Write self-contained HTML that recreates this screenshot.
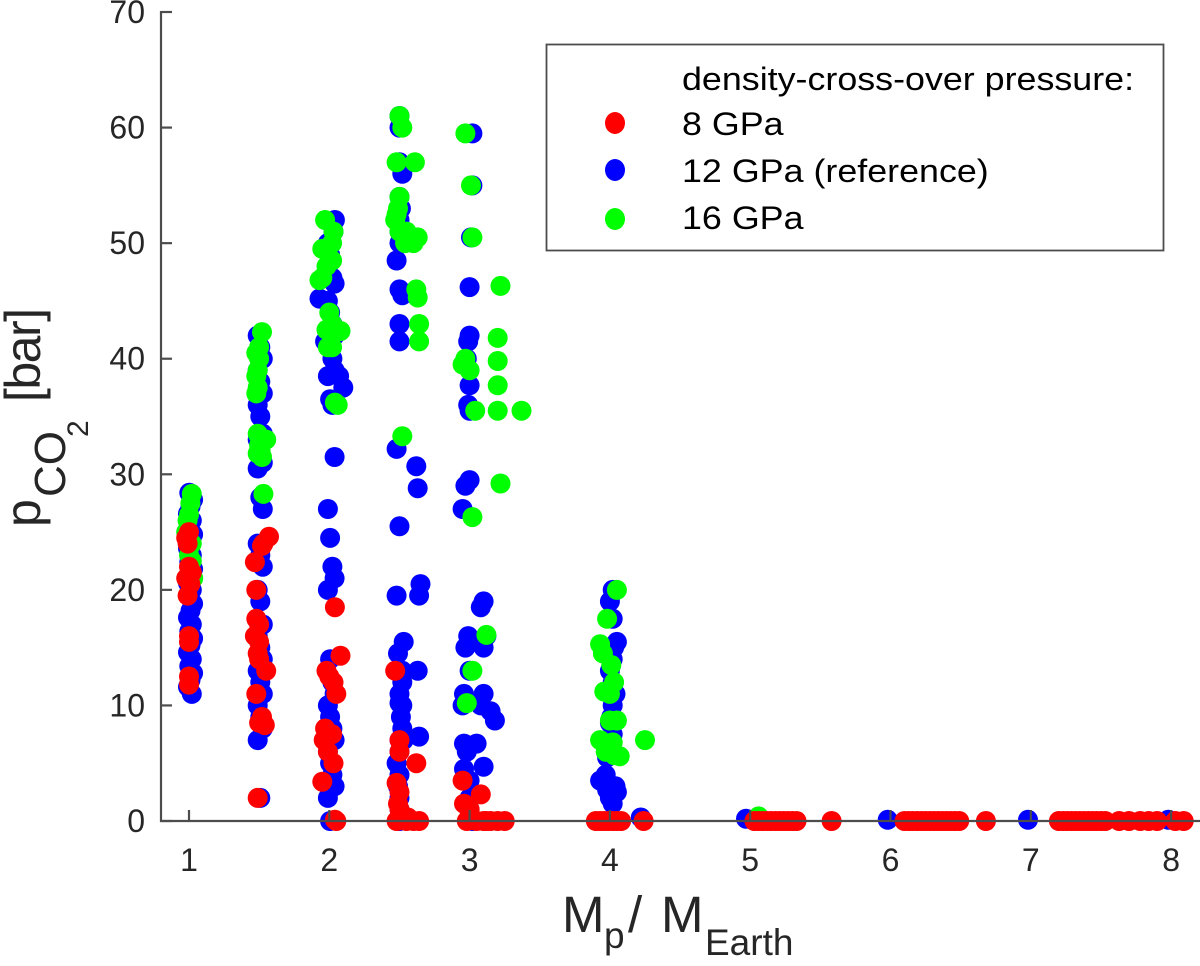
<!DOCTYPE html>
<html><head><meta charset="utf-8"><style>
html,body{margin:0;padding:0;background:#fff}
svg{display:block;font-family:"Liberation Sans",Arial,sans-serif}
</style></head><body>
<svg id="s" width="1200" height="966" viewBox="0 0 1200 966" xmlns="http://www.w3.org/2000/svg">
<rect width="1200" height="966" fill="#fff"/>
<g id="pts"></g>
<g stroke="#4d4d4d" stroke-width="2.2" fill="none">
<line x1="161" y1="11" x2="161" y2="822"/>
<line x1="160" y1="821" x2="1200" y2="821"/>
</g>
<g id="ticks" stroke="#4d4d4d" stroke-width="2.2"></g>
<g id="lbl" font-size="32" fill="#262626"></g>
<text x="562" y="932" font-size="51" fill="#262626">M</text>
<text x="604" y="948" font-size="37" fill="#262626">p</text>
<text x="628" y="932" font-size="51" fill="#262626">/</text>
<text x="661" y="932" font-size="51" fill="#262626">M</text>
<text x="705" y="955" font-size="37" fill="#262626">Earth</text>
<g transform="translate(40,0)">
<text transform="translate(0,527) rotate(-90)" font-size="50" fill="#262626">p</text>
<text transform="translate(25,497) rotate(-90)" font-size="44" fill="#262626">CO</text>
<text transform="translate(48,437) rotate(-90)" font-size="30" fill="#262626">2</text>
<text transform="translate(0,402) rotate(-90)" font-size="50" fill="#262626" textLength="94">[bar]</text>
</g>
<rect x="546.5" y="44.5" width="617" height="206" fill="#fff" stroke="#4d4d4d" stroke-width="1.8"/>
<g font-size="32" fill="#000" transform="translate(682,0) scale(1.12,1)">
<text x="0" y="90">density-cross-over pressure:</text>
<text x="0" y="135">8 GPa</text>
<text x="0" y="182">12 GPa (reference)</text>
<text x="0" y="229">16 GPa</text>
</g>
<ellipse cx="615" cy="123" rx="10" ry="11" fill="#ff0000"/>
<ellipse cx="615" cy="170" rx="10" ry="11" fill="#0000ff"/>
<ellipse cx="615" cy="219" rx="10" ry="11" fill="#00ff00"/>
</svg>
<script>
var NS="http://www.w3.org/2000/svg";
function X(m){return 189+(m-1)*140.3;}
function Y(v){return 821-v*11.557;}
var ticks=document.getElementById('ticks'),lbl=document.getElementById('lbl'),pts=document.getElementById('pts');
function el(t,a,p){var e=document.createElementNS(NS,t);for(var k in a)e.setAttribute(k,a[k]);p.appendChild(e);return e;}
for(var v=0;v<=70;v+=10){var y=Y(v);el('line',{x1:161,y1:y,x2:172,y2:y},ticks);var t=el('text',{x:145,y:y+11,'text-anchor':'end'},lbl);t.textContent=v;}
for(var m=1;m<=8;m++){var x=X(m);el('line',{x1:x,y1:821,x2:x,y2:810},ticks);var t=el('text',{x:x,y:871,'text-anchor':'middle'},lbl);t.textContent=m;}
var B=[],G=[],R=[];
for(var v=11;v<=28.5;v+=0.6){B.push([0.99+((v*7)%3)*0.015,v]);}
G.push([1.02,28.3],[1.01,27.5],[1.0,26.5],[0.99,26],[0.98,25],[1.02,22.5],[1.0,23],[1.03,21],[1.02,24]);
R.push([0.98,24.5],[1.0,25],[0.99,24],[1.0,22],[1.02,21.5],[0.98,21],[1.01,20.5],[0.99,19.5],[0.99,21],[1.0,16],[1.0,15.5],[1.0,12.5],[1.0,11.8]);
[42,41,40,39,38,37,36,35,33.5,33,32,31,30.5,28,27,24,23,22,20,19,17,16,15,14,13,12,11,10,9,8,7,2].forEach(function(v,i){B.push([1.49+(i%3)*0.018,v]);});
G.push([1.52,42.3],[1.48,40.5],[1.5,40],[1.49,39],[1.48,38.5],[1.49,37.5],[1.48,37],[1.5,41],[1.49,33.5],[1.52,33],[1.55,33],[1.5,32.5],[1.51,32],[1.49,31.8],[1.52,31.5],[1.53,28.3]);
R.push([1.57,24.6],[1.53,24],[1.47,22.4],[1.52,23.8],[1.48,20],[1.48,17.5],[1.5,17],[1.47,16],[1.5,15.5],[1.49,14.5],[1.5,14],[1.55,13],[1.48,11],[1.5,8.5],[1.54,8.3],[1.52,9],[1.49,2]);
B.push([1.93,45.2],[2.04,52],[2.03,51]);
[50,49,47,46.5,45,44,43,42,41.5,41,40,39,38.5,36.5,36,31.5,27,24.5,22,21,20,14,12,11,10,9,8,7,6,5,4,3,2,0].forEach(function(v,i){B.push([1.99+(i%4)*0.016,v]);});
B.push([2.1,37.5],[2.07,38.5],[1.97,41.5]);
G.push([1.97,52],[2.03,51],[1.95,49.5],[2.02,50],[2.02,48.5],[1.98,48],[1.95,47],[1.93,46.8],[2.0,44],[2.02,43],[1.98,42.5],[2.03,42.5],[2.08,42.4],[1.99,41],[2.02,41],[2.04,36.2],[2.06,36]);
R.push([2.04,18.5],[2.08,14.3],[1.98,13],[2.0,12.5],[2.03,12],[1.97,8],[1.96,7],[1.99,6],[2.02,7.5],[2.05,11],[2.03,5],[1.95,3.4],[2.04,0.1],[2.05,0]);
B.push([2.5,61],[2.5,60],[2.5,57],[2.52,56],[2.5,54],[2.51,53],[2.5,52],[2.5,51],[2.5,50],[2.48,48.5],[2.5,46],[2.52,45.5],[2.5,43],[2.5,41.5],[2.48,32.2],[2.62,30.7],[2.63,28.8],[2.5,25.5],[2.65,20.5],[2.64,19.5],[2.48,19.5],[2.53,15.5],[2.49,14.5],[2.52,13],[2.63,13],[2.5,10.2],[2.52,10],[2.5,7],[2.53,7],[2.64,7.3],[2.5,6],[2.48,5],[2.5,4],[2.49,3],[2.5,2],[2.5,1],[2.5,0],[2.52,12],[2.5,11],[2.51,9],[2.52,8]);
G.push([2.5,61],[2.52,60],[2.48,57],[2.61,57],[2.5,54],[2.49,53],[2.48,52.5],[2.47,52],[2.5,51],[2.55,51],[2.58,50.5],[2.6,50],[2.54,50],[2.63,50.5],[2.62,46],[2.63,45.3],[2.64,43],[2.64,41.5],[2.52,33.3]);
R.push([2.47,13],[2.5,7],[2.5,6],[2.48,3.3],[2.5,2.5],[2.49,1.5],[2.5,1],[2.52,0.5],[2.48,0],[2.55,0],[2.6,0],[2.64,0],[2.62,5],[2.56,0.3]);
B.push([3.02,59.5],[3.02,55],[3.01,50.5],[3.0,46.2],[3.0,42],[2.99,41.5],[2.98,40],[3.0,37.7],[2.99,36],[3.0,35.5],[3.0,29.5],[2.97,29],[2.95,27],[2.99,16],[2.97,15],[3.0,13],[2.96,11],[2.95,10],[2.96,6.7],[2.98,6],[3.0,3.5],[3.0,2],[3.0,1],[2.96,4.5],[3.1,19],[3.08,18.5],[3.12,16],[3.1,15],[3.1,11],[3.08,10],[3.15,9.5],[3.18,8.7],[3.05,6.7],[3.1,4.7],[3.02,0]);
G.push([2.97,59.5],[3.01,55],[3.02,50.5],[3.22,46.3],[2.97,40],[2.95,39.5],[3.0,39],[3.2,41.8],[3.2,39.8],[3.2,37.7],[3.04,35.5],[3.2,35.5],[3.37,35.5],[3.22,29.2],[3.02,26.3],[3.12,16.1],[3.02,13],[2.98,10.2]);
R.push([2.95,3.5],[2.96,1.5],[3.0,1],[2.98,0],[3.05,0],[3.1,0],[3.15,0],[3.2,0],[3.25,0],[3.08,2.3],[3.0,0.5],[3.12,0]);
B.push([4.02,20],[4.0,19],[4.02,17.5],[4.05,15.5],[4.03,15],[4.02,14],[4.0,13],[4.02,12],[4.04,11],[4.02,10],[4.01,9],[4.0,8.5],[4.02,7.5],[4.01,6.5],[4.0,6],[3.98,5.5],[3.97,4],[3.93,3.5],[3.98,2.7],[4.05,2.5],[4.02,1.5],[4.0,2],[4.04,3],[4.22,0.3]);
G.push([4.05,20],[3.98,17.5],[3.93,15.3],[3.95,14.5],[4.01,13.5],[4.03,12],[3.96,11.2],[4.0,11],[4.05,8.7],[4.0,8.7],[3.93,7],[4.02,6.8],[3.97,6],[4.03,5.7],[4.07,5.6],[4.0,6.5],[4.25,7]);
for(var m=3.9;m<=4.1;m+=0.03)R.push([m,0]);R.push([4.24,0]);
B.push([4.97,0.2],[5.98,0.1],[6.98,0.1],[7.98,0.1]);
G.push([5.06,0.4]);
for(var m=5.03;m<=5.36;m+=0.03)R.push([m,0]);R.push([5.58,0]);
for(var m=6.1;m<=6.52;m+=0.03)R.push([m,0]);R.push([6.68,0]);
for(var m=7.2;m<=7.56;m+=0.03)R.push([m,0]);R.push([7.63,0],[7.7,0],[7.78,0],[7.84,0],[7.9,0],[8.03,0],[8.09,0]);
function draw(a,c){a.forEach(function(p){el('circle',{cx:X(p[0]).toFixed(1),cy:Y(p[1]).toFixed(1),r:10,fill:c},pts);});}
draw(B,'#0000ff');draw(G,'#00ff00');draw(R,'#ff0000');
</script>
</body></html>
